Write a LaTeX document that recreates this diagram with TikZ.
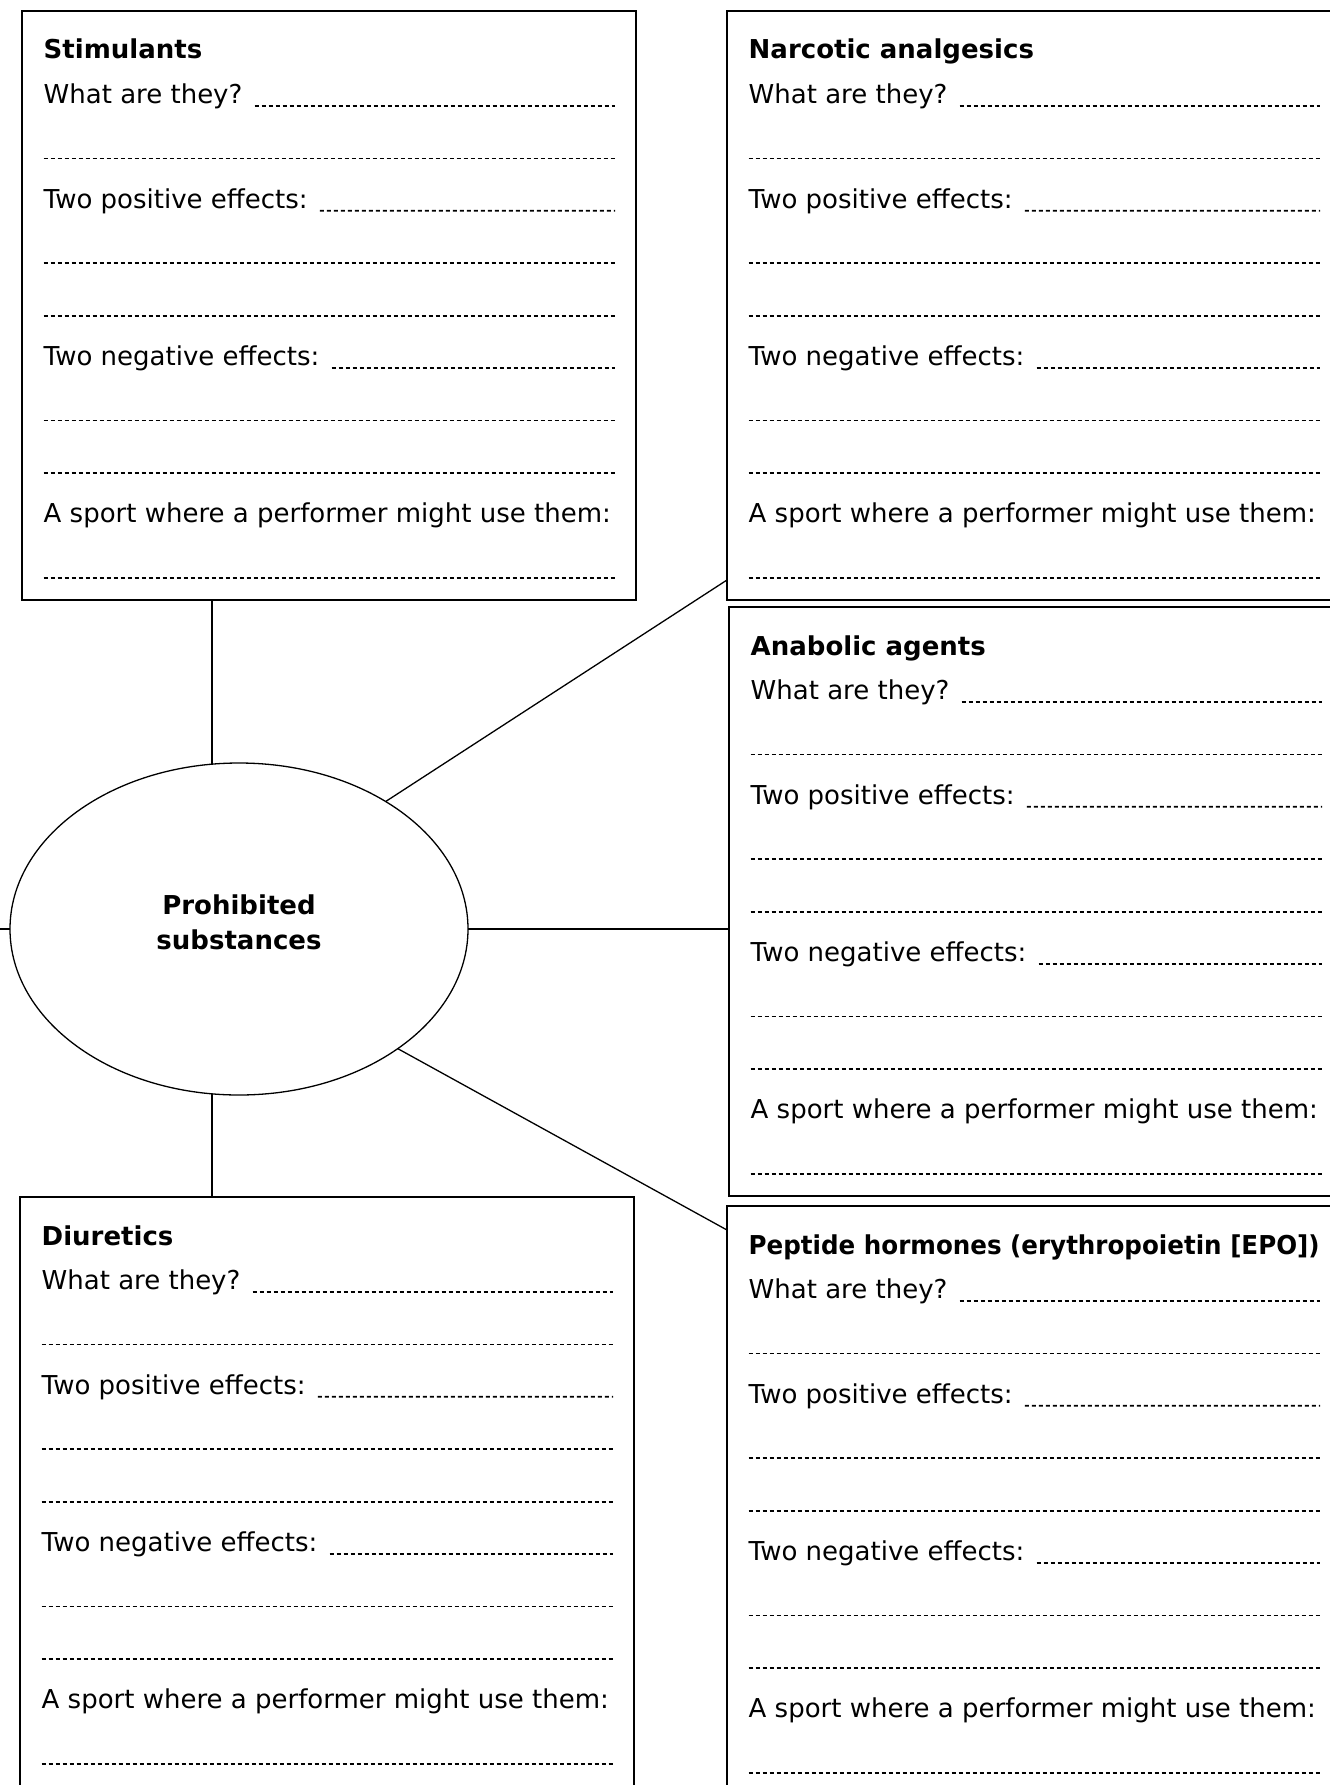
\documentclass[tikz,border=0pt]{standalone}
\usepackage{fontspec}
\setmainfont{DejaVu Sans}
\usepackage{graphicx}
\usetikzlibrary{shapes.geometric,calc}
\tikzset{
  wbox/.style={draw, line width=1.6pt, minimum width=614pt, minimum height=589pt, inner sep=0pt, outer sep=0pt, anchor=north west},
  ttl/.style={anchor=base west, inner sep=0pt, font=\fontsize{26pt}{31pt}\selectfont\bfseries},
  lbl/.style={anchor=base west, inner sep=0pt, font=\fontsize{26pt}{31pt}\selectfont},
  leader/.style={line width=1.8pt, dash pattern=on 4pt off 3pt},
  link/.style={line width=1.3pt},
  hub/.style={ellipse, draw, line width=1.3pt, fill=white, minimum width=458pt, minimum height=332pt, inner sep=0pt, outer sep=0pt},
  hubtext/.style={align=center, inner sep=0pt, font=\fontsize{26pt}{35pt}\selectfont\bfseries},
}
\newcommand\wsbox[4]{%
  \node[wbox] (#1) at (#2,#3) {};
  \node[ttl] (#1-title) at ([shift={(21.5,48)}]#1.north west) {#4};
  \node[lbl] (#1-q1) at ([shift={(21.5,92.6)}]#1.north west) {What are they?};
  \node[lbl] (#1-q2) at ([shift={(21.5,197.4)}]#1.north west) {Two positive effects:};
  \node[lbl] (#1-q3) at ([shift={(21.5,354.6)}]#1.north west) {Two negative effects:};
  \node[lbl] (#1-q4) at ([shift={(21.5,511.8)}]#1.north west) {A sport where a performer might use them:};
  \draw[leader] ([xshift=12pt,yshift=-2.4pt]#1-q1.base east) -- ([shift={(593,95)}]#1.north west);
  \draw[leader] ([xshift=12pt,yshift=-2.4pt]#1-q2.base east) -- ([shift={(593,199.8)}]#1.north west);
  \draw[leader] ([xshift=12pt,yshift=-2.4pt]#1-q3.base east) -- ([shift={(593,357)}]#1.north west);
  \foreach \k in {147.4,252.2,304.6,409.4,461.8,566.6}{
    \draw[leader] ([shift={(21.5,\k)}]#1.north west) -- ([shift={(593,\k)}]#1.north west);
  }
}
\begin{document}
\begin{tikzpicture}[x=1pt,y=-1pt]
\useasboundingbox (0,0) rectangle (1330,1785);
\fill[white] (0,0) rectangle (1330,1785);

\wsbox{stim}{22}{11}{Stimulants}
\wsbox{narc}{727}{11}{Narcotic analgesics}
\wsbox{anab}{729}{607}{Anabolic agents}
\wsbox{pep}{727}{1206}{\scalebox{0.945}[1]{Peptide hormones (erythropoietin [EPO])}}
\wsbox{diur}{20}{1197}{Diuretics}

\node[hub] (ell) at (239,929) {};
\node[hubtext] (elltext) at ([yshift=7pt]ell.center) {Prohibited\\substances};

\draw[link] ([xshift=-117pt]stim.south) -- ([xshift=-27pt,yshift=-1pt]ell.north);
\draw[link] ([xshift=-27pt,yshift=1pt]ell.south) -- ([xshift=-115pt]diur.north);
\draw[link] (ell.41.7) -- ([yshift=20pt]narc.south west);
\draw[link] (ell.east) -- (ell.east -| anab.west);
\draw[link] (ell.-37.1) -- ([yshift=-24pt]pep.north west);
\draw[link] (ell.west) -- ++(-20,0);
\end{tikzpicture}
\end{document}
